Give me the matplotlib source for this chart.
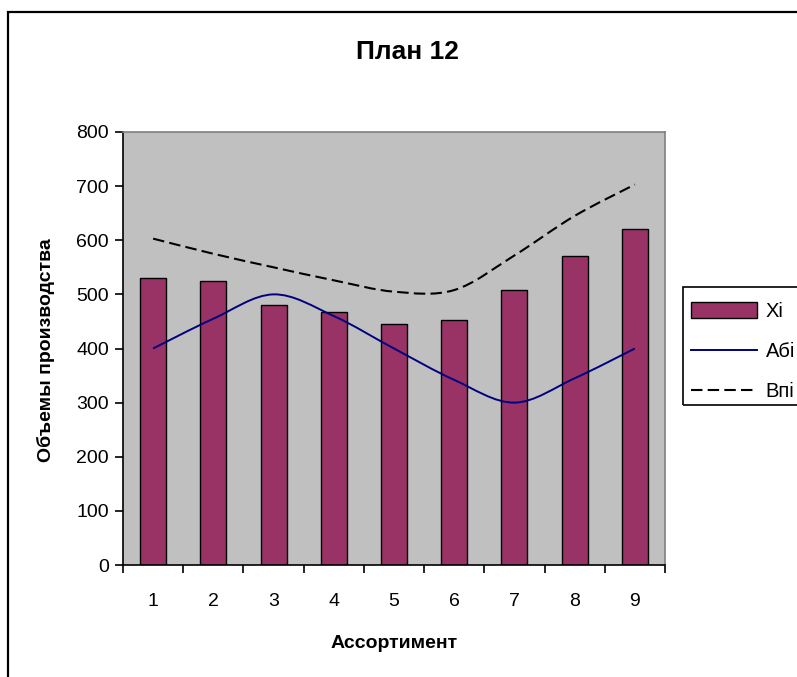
import numpy as np
import matplotlib
matplotlib.use("Agg")
import matplotlib.pyplot as plt
from matplotlib.path import Path
from matplotlib.patches import PathPatch, Rectangle
from matplotlib.lines import Line2D

plt.rcParams['font.family'] = ['Liberation Sans', 'DejaVu Sans']

# data
cats = [1, 2, 3, 4, 5, 6, 7, 8, 9]
xi = [531, 525, 481, 467, 446, 453, 508, 570, 621]
ai = [400, 455, 500, 460, 400, 342, 300, 345, 400]
bi = [603, 575, 550, 526, 505, 508, 572, 645, 703]

names = ['Xi', 'Абі', 'Впі']
title = 'План 12'
xlabel = 'Ассортимент'
ylabel = 'Объемы производства'


def smooth_path(xs, ys):
    # Excel style smoothed line: cubic bezier through every point
    p = np.column_stack([xs, ys]).astype(float)
    n = len(p)
    verts = [p[0]]
    codes = [Path.MOVETO]
    for i in range(n - 1):
        prev = p[i - 1] if i > 0 else p[i]
        nxt = p[i + 2] if i + 2 < n else p[i + 1]
        c1 = p[i] + (p[i + 1] - prev) / 6
        c2 = p[i + 1] - (nxt - p[i]) / 6
        verts += [c1, c2, p[i + 1]]
        codes += [Path.CURVE4] * 3
    return Path(verts, codes)


W, H = 797, 677
fig = plt.figure(figsize=(W / 100, H / 100), dpi=100)

# outer chart border
fig.patches.append(Rectangle((8 / W, -0.1), 1.2, 1.1 - 12 / H, transform=fig.transFigure,
                             fill=False, edgecolor='black', linewidth=1.6))

ax = fig.add_axes([123 / W, 1 - 565 / H, 542 / W, 433 / H])
ax.set_facecolor('#C0C0C0')

ax.bar(cats, xi, width=0.43, color='#993366', edgecolor='black', linewidth=1.0, zorder=2)

ax.add_patch(PathPatch(smooth_path(cats, ai), fill=False, edgecolor='#000080',
                       linewidth=1.4, zorder=3))
ax.add_patch(PathPatch(smooth_path(cats, bi), fill=False, edgecolor='black',
                       linewidth=1.5, linestyle=(0, (5.5, 2.5)), zorder=3))

ax.set_xlim(0.5, 9.5)
ax.set_ylim(0, 800)
ax.set_yticks(range(0, 801, 100))
ax.set_xticks(np.arange(0.5, 9.6, 1))
ax.set_xticklabels([])
ax.set_xticks(cats, minor=True)
ax.set_xticklabels([str(c) for c in cats], minor=True)
ax.tick_params(axis='x', which='minor', length=0, pad=20, labelsize=14)
ax.tick_params(axis='x', which='major', length=6, width=1.2, direction='out')
ax.tick_params(axis='y', length=6, width=1.2, direction='out', labelsize=14, pad=4)

for s in ['top', 'right']:
    ax.spines[s].set_color('#808080')
    ax.spines[s].set_linewidth(1.2)
for s in ['left', 'bottom']:
    ax.spines[s].set_color('black')
    ax.spines[s].set_linewidth(1.2)

fig.text(407 / W, 1 - 52 / H, title, ha='center', va='center', fontsize=19, fontweight='bold')
fig.text(394 / W, 1 - 643 / H, xlabel, ha='center', va='center', fontsize=14, fontweight='bold')
fig.text(46 / W, 1 - 350 / H, ylabel, ha='center', va='center', rotation=90,
         fontsize=14, fontweight='bold')

# legend frame, cut by the right edge like in the original
fig.patches.append(Rectangle((683 / W, 1 - 405 / H), 0.2, 118 / H, transform=fig.transFigure,
                             fill=False, edgecolor='black', linewidth=1.2))

handles = [
    Rectangle((0, 0), 1, 1, facecolor='#993366', edgecolor='black', linewidth=1.0),
    Line2D([], [], color='#000080', linewidth=1.4),
    Line2D([], [], color='black', linewidth=1.5, linestyle=(0, (5.5, 2.5))),
]
leg = fig.legend(handles, names, loc='upper left', bbox_to_anchor=(691 / W, 1 - 302 / H),
                 fontsize=14.5, frameon=False,
                 handlelength=3.3, handleheight=0.8, handletextpad=0.4,
                 labelspacing=1.05, borderpad=0, borderaxespad=0)

fig.savefig('out.png', dpi=100, facecolor='white')
